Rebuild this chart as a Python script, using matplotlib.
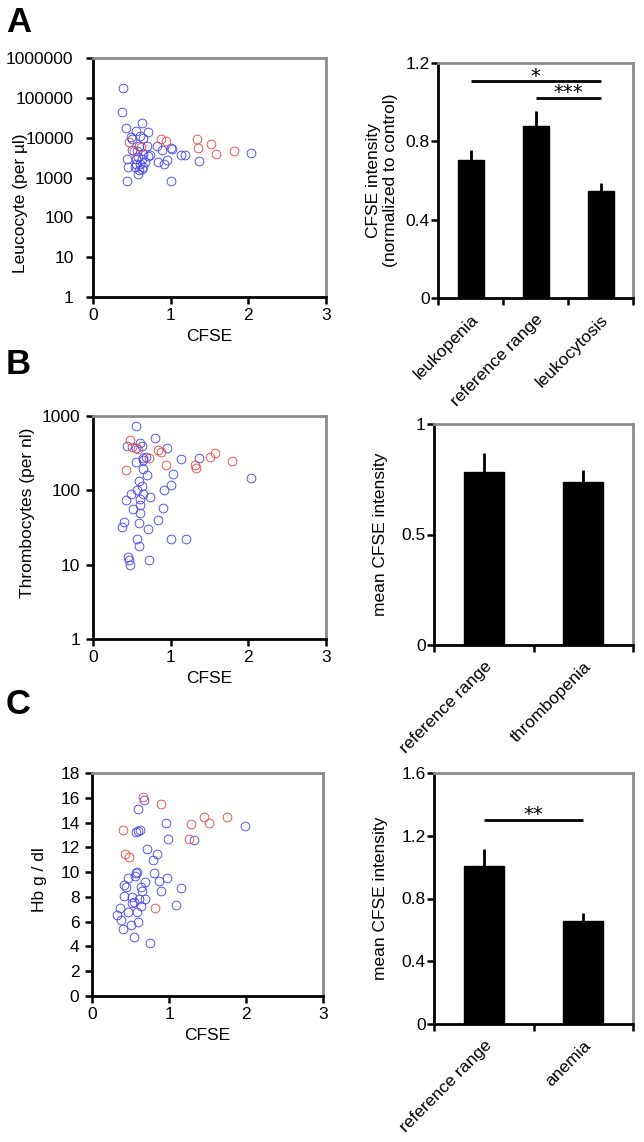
import matplotlib
matplotlib.use("Agg")
import matplotlib.pyplot as plt
import numpy as np

plt.rcParams['font.family'] = ['Liberation Sans', 'DejaVu Sans']

# ---------------- data ----------------
# Panel A scatter: CFSE vs leucocytes (per ul)
a_blue_x = [0.39, 0.37, 0.42, 0.63, 0.56, 0.61, 0.71, 0.65, 0.50, 0.59, 0.70, 0.82, 1.00, 1.02,
            0.50, 0.89, 0.65, 0.74, 1.13, 1.19, 0.58, 0.44, 0.63, 0.95, 0.84, 1.36, 0.55, 0.61,
            0.91, 0.45, 0.54, 0.65, 0.59, 0.63, 0.58, 0.44, 1.00, 2.04, 0.55, 0.67, 0.71, 0.57, 0.49]
a_blue_y = [175000, 43000, 17000, 23000, 15000, 10700, 13500, 10000, 9300, 6300, 6300, 6300, 5600, 5200,
            4900, 4800, 3900, 3700, 3700, 3600, 3200, 2950, 2950, 2750, 2400, 2550, 2200, 2200,
            2200, 1800, 1800, 1800, 1500, 1650, 1200, 800, 800, 4200, 2950, 2400, 3450, 4700, 10200]
a_red_x = [0.46, 0.53, 0.87, 0.94, 1.34, 1.35, 1.52, 1.59, 1.81, 0.62]
a_red_y = [7600, 4700, 9300, 8100, 9500, 5500, 7100, 4000, 4500, 6000]

# Panel B scatter: CFSE vs thrombocytes (per nl)
b_blue_x = [0.56, 0.80, 0.44, 0.61, 0.63, 0.95, 0.55, 0.68, 0.64, 1.13, 1.37, 0.55, 0.65, 0.70,
            1.03, 0.59, 2.03, 1.01, 0.63, 0.57, 0.92, 0.64, 0.49, 0.74, 0.42, 0.60, 0.61, 0.51,
            0.90, 0.61, 0.84, 0.40, 0.37, 0.59, 0.71, 0.57, 0.59, 1.01, 1.20, 0.45, 0.46, 0.48,
            0.72, 0.65]
b_blue_y = [740, 510, 400, 430, 400, 370, 370, 280, 255, 265, 275, 240, 195, 160,
            165, 135, 145, 118, 115, 100, 100, 89, 89, 81, 74, 76, 63, 56,
            58, 50, 40, 37, 32, 36, 30, 22, 18, 22, 22, 12.6, 11.5, 10, 11.7, 275]
b_red_x = [0.47, 0.50, 0.72, 0.84, 0.87, 0.94, 0.43, 1.31, 1.32, 1.51, 1.57, 1.79, 0.58]
b_red_y = [470, 380, 270, 350, 330, 220, 185, 220, 200, 280, 315, 250, 360]

# Panel C scatter: CFSE vs Hb (g/dl)
c_blue_x = [0.67, 0.60, 0.96, 0.57, 0.60, 0.62, 1.99, 0.99, 1.32, 0.71, 0.85, 0.79, 0.57, 0.59,
            0.56, 0.81, 0.97, 0.87, 0.47, 0.69, 0.41, 0.44, 0.63, 1.16, 0.90, 0.65, 0.41, 0.52,
            0.69, 0.61, 0.52, 0.64, 1.09, 0.36, 0.47, 0.33, 0.58, 0.38, 0.60, 0.51, 0.40, 0.55,
            0.75, 0.54]
c_blue_y = [15.8, 15.1, 14.0, 13.25, 13.35, 13.4, 13.7, 12.7, 12.6, 11.85, 11.5, 11.0, 9.9, 10.0,
            9.7, 9.9, 9.5, 9.3, 9.5, 9.2, 8.95, 8.8, 8.8, 8.7, 8.5, 8.5, 8.1, 8.0,
            7.8, 7.8, 7.5, 7.3, 7.35, 7.1, 6.8, 6.5, 6.75, 6.1, 6.0, 5.7, 5.4, 4.8,
            4.3, 7.6]
c_red_x = [0.66, 0.90, 0.40, 1.28, 1.45, 1.52, 1.75, 1.26, 0.43, 0.48, 0.82]
c_red_y = [16.1, 15.5, 13.4, 13.9, 14.45, 14.0, 14.45, 12.7, 11.45, 11.25, 7.1]

# Bar charts
a_cats = ["leukopenia", "reference range", "leukocytosis"]
a_vals = [0.703, 0.877, 0.545]
a_errs = [0.054, 0.078, 0.042]

b_cats = ["reference range", "thrombopenia"]
b_vals = [0.781, 0.738]
b_errs = [0.089, 0.052]

c_cats = ["reference range", "anemia"]
c_vals = [1.004, 0.657]
c_errs = [0.111, 0.049]

# significance brackets: (from, to, height, label)
a_sig = [(0, 2, 1.106, "*"), (1, 2, 1.023, "***")]
c_sig = [(0, 1, 1.302, "**")]

# ---------------- style ----------------
FS = 12.5
BLUE = "#4a4aea"
RED = "#ea4a4a"
GRAY = "#8c8c8c"

fig = plt.figure(figsize=(6.44, 11.42), dpi=100)
W, H = 644.0, 1142.0


def add_ax(left, right, top, bottom):
    return fig.add_axes([left / W, 1 - bottom / H, (right - left) / W, (bottom - top) / H])


def style(ax, ypad):
    for s in ("left", "bottom"):
        ax.spines[s].set_color("black")
        ax.spines[s].set_linewidth(2.0)
    for s in ("top", "right"):
        ax.spines[s].set_color(GRAY)
        ax.spines[s].set_linewidth(2.0)
    ax.tick_params(axis="both", which="major", direction="out", length=5, width=1.8,
                   labelsize=FS, top=False, right=False, pad=3)
    ax.tick_params(axis="y", which="major", pad=ypad)


def scatter_panel(ax, bx, by, rx, ry, ypad):
    ax.plot(bx, by, linestyle="none", marker="o", markersize=6.3, markerfacecolor="none",
            markeredgecolor=BLUE, markeredgewidth=0.65)
    ax.plot(rx, ry, linestyle="none", marker="o", markersize=6.3, markerfacecolor="none",
            markeredgecolor=RED, markeredgewidth=0.65)
    ax.set_xlim(0, 3)
    ax.set_xticks([0, 1, 2, 3])
    ax.set_xticklabels(["0", "1", "2", "3"])
    ax.set_xlabel("CFSE", fontsize=FS, labelpad=4)
    style(ax, ypad)


# Scatter A
axA = add_ax(93, 326, 58, 297)
scatter_panel(axA, a_blue_x, a_blue_y, a_red_x, a_red_y, 9)
axA.set_yscale("log")
axA.set_ylim(1, 1e6)
axA.set_yticks([1, 10, 100, 1000, 10000, 100000, 1000000])
axA.set_yticklabels(["1", "10", "100", "1000", "10000", "100000", "1000000"])
axA.yaxis.set_minor_locator(matplotlib.ticker.NullLocator())
axA.set_ylabel("Leucocyte (per µl)", fontsize=FS)
axA.yaxis.set_label_coords((28 - 93) / 233, 1 - (203 - 58) / 239)

# Scatter B
axB = add_ax(93, 326, 416, 639)
scatter_panel(axB, b_blue_x, b_blue_y, b_red_x, b_red_y, 4)
axB.set_yscale("log")
axB.set_ylim(1, 1000)
axB.set_yticks([1, 10, 100, 1000])
axB.set_yticklabels(["1", "10", "100", "1000"])
axB.yaxis.set_minor_locator(matplotlib.ticker.NullLocator())
axB.set_ylabel("Thrombocytes (per nl)", fontsize=FS)
axB.yaxis.set_label_coords((35 - 93) / 233, 1 - (513 - 416) / 223)

# Scatter C
axC = add_ax(92, 323, 773, 996)
scatter_panel(axC, c_blue_x, c_blue_y, c_red_x, c_red_y, 4)
axC.set_ylim(0, 18)
axC.set_yticks(np.arange(0, 19, 2))
axC.set_ylabel("Hb g / dl", fontsize=FS)
axC.yaxis.set_label_coords((47 - 92) / 231, 1 - (880 - 773) / 223)


def bar_panel(ax, cats, vals, errs, ymax, yticks, yticklabels, ylabel, label_x, sigs=()):
    n = len(cats)
    x = np.arange(n)
    ax.bar(x, vals, width=0.4, color="black", edgecolor="black", zorder=2)
    ax.errorbar(x, vals, yerr=[np.zeros(n), errs], fmt="none", ecolor="black",
                elinewidth=2.0, capsize=0, zorder=1)
    ax.set_xlim(-0.5, n - 0.5)
    ax.set_ylim(0, ymax)
    ax.set_yticks(yticks)
    ax.set_yticklabels(yticklabels)
    ax.set_xticks(np.arange(n + 1) - 0.5)
    ax.set_xticklabels([""] * (n + 1))
    ax.set_xticks(x, minor=True)
    ax.set_xticklabels(cats, minor=True, rotation=45, ha="right", va="top",
                       rotation_mode="anchor", fontsize=FS)
    ax.set_ylabel(ylabel, fontsize=FS)
    style(ax, 1)
    ax.tick_params(axis="x", which="minor", length=0, pad=10)
    ax.yaxis.set_label_coords(label_x, 0.5)
    for (i0, i1, h, lab) in sigs:
        ax.plot([i0, i1], [h, h], color="black", linewidth=2.0, solid_capstyle="butt")
        ax.annotate(lab, xy=((i0 + i1) / 2, h), xytext=(0, -0.3), textcoords="offset points",
                    ha="center", va="baseline", fontsize=14, family="DejaVu Sans")


axBA = add_ax(438, 633, 63, 298)
bar_panel(axBA, a_cats, a_vals, a_errs, 1.2, [0, 0.4, 0.8, 1.2], ["0", "0.4", "0.8", "1.2"],
          "CFSE intensity\n(normalized to control)", (398 - 438) / 195, a_sig)

axBB = add_ax(434, 633, 424, 645)
bar_panel(axBB, b_cats, b_vals, b_errs, 1.0, [0, 0.5, 1.0], ["0", "0.5", "1"],
          "mean CFSE intensity", (388 - 434) / 199)

axBC = add_ax(434, 633, 773, 1024)
bar_panel(axBC, c_cats, c_vals, c_errs, 1.6, [0, 0.4, 0.8, 1.2, 1.6], ["0", "0.4", "0.8", "1.2", "1.6"],
          "mean CFSE intensity", (388 - 434) / 199, c_sig)

# Panel letters
for lab, ypx in (("A", 6), ("B", 348), ("C", 688)):
    fig.text(6 / W, 1 - ypx / H, lab, fontsize=25, fontweight="bold", ha="left", va="top")

fig.savefig("out.png", dpi=100)
